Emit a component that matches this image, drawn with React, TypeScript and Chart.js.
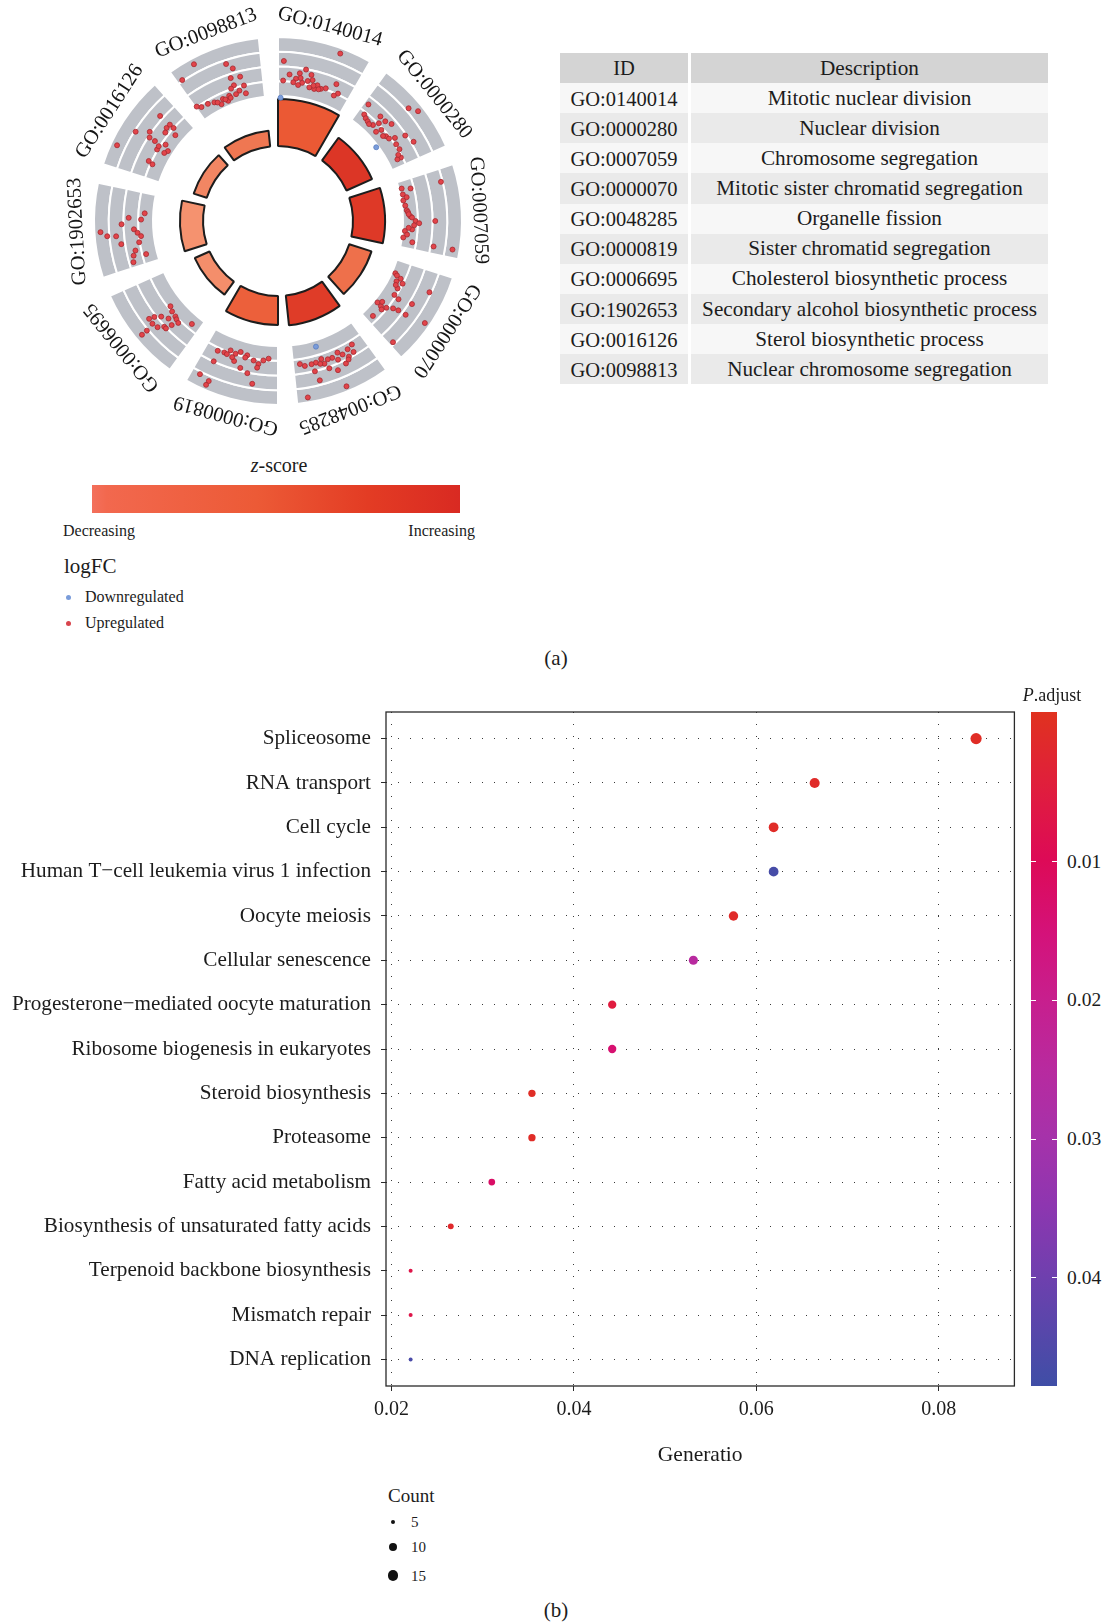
import React, { useEffect, useRef } from "react";
import { Chart, registerables } from "chart.js";

Chart.register(...registerables);

const SERIF = '"Liberation Serif", "Times New Roman", Times, serif';
Chart.defaults.font.family = SERIF;
Chart.defaults.color = "#1c1c1c";

// ================= (a) GO circle data =================
const goIds = [
  "GO:0140014", "GO:0000280", "GO:0007059", "GO:0000070", "GO:0048285",
  "GO:0000819", "GO:0006695", "GO:1902653", "GO:0016126", "GO:0098813",
];
const goDescriptions = [
  "Mitotic nuclear division", "Nuclear division", "Chromosome segregation",
  "Mitotic sister chromatid segregation", "Organelle fission", "Sister chromatid segregation",
  "Cholesterol biosynthetic process", "Secondary alcohol biosynthetic process",
  "Sterol biosynthetic process", "Nuclear chromosome segregation",
];
// -log10(adjusted p) -> inner bar height
const goSignificance = [21.4, 12.7, 14.6, 10.6, 13.6, 13.2, 7.3, 10.5, 6.2, 7.2];
// z-score -> inner bar colour
const goZScore = [5.0, 7.2, 7.0, 3.9, 6.8, 4.7, 1.9, 1.6, 2.5, 3.6];

// genes per term: [position along the term (0..1), logFC]
const up_GO0140014 = [[0.68,5.07],[0.07,3.34],[0.15,2.11],[0.35,2.77],[0.28,2.33],[0.24,1.78],[0.33,1.48],[0.43,2.38],[0.46,1.93],[0.44,1.2],[0.54,1.58],[0.6,1.36],[0.51,1.17],[0.77,2.28],[0.84,1.53],[0.8,1.21],[0.07,1.51],[0.21,1.42],[0.28,1.22],[0.4,1.75],[0.49,1.45],[0.57,1.25],[0.66,1.55],[0.3,1.9]];
const up_GO0000280 = [[0.06,2.16],[0.1,1.18],[0.44,4.5],[0.53,5.01],[0.28,2.05],[0.37,2.06],[0.45,2.33],[0.29,0.99],[0.39,0.76],[0.42,1.25],[0.53,1.21],[0.62,1.78],[0.67,2.7],[0.79,3.05],[0.7,1.54],[0.78,1.56],[0.89,1.3],[0.89,0.93],[0.15,1.0],[0.2,0.9],[0.24,0.8],[0.33,1.5],[0.5,1.0],[0.58,1.3],[0.84,1.2]];
const up_GO0007059 = [[0.11,0.32],[0.14,1.13],[0.15,4.04],[0.29,0.24],[0.44,0.45],[0.53,0.74],[0.6,1.23],[0.63,1.57],[0.72,0.93],[0.75,0.27],[0.85,0.18],[0.9,1.08],[0.6,3.07],[0.91,3.11],[0.91,4.9],[0.37,0.35],[0.47,0.55],[0.55,0.9],[0.66,1.1],[0.7,0.6],[0.2,0.3],[0.5,0.6],[0.8,0.5],[0.25,0.6]];
const up_GO0000070 = [[0.2,0.38],[0.24,1.04],[0.29,1.41],[0.38,1.2],[0.48,1.26],[0.71,0.39],[0.72,0.86],[0.69,1.35],[0.64,1.88],[0.62,2.38],[0.61,3.18],[0.46,3.11],[0.24,4.02],[0.56,5.09],[0.95,3.99],[0.9,0.92],[0.22,0.6],[0.3,0.8],[0.35,0.9],[0.66,0.7],[0.75,1.1],[0.5,1.8]];
const up_GO0048285 = [[0.17,1.82],[0.25,2.01],[0.34,2.23],[0.39,1.87],[0.48,2.13],[0.54,2.11],[0.62,1.89],[0.7,2.08],[0.76,2.12],[0.85,2.15],[0.91,1.9],[0.74,2.84],[0.71,3.77],[0.56,2.95],[0.47,3.4],[0.35,3.13],[0.28,2.68],[0.45,5.1],[0.88,5.1],[0.2,2.5],[0.3,2.9],[0.6,2.4],[0.42,2.5],[0.65,2.3]];
const up_GO0000819 = [[0.83,1.75],[0.74,1.64],[0.67,1.25],[0.59,1.4],[0.53,1.1],[0.43,1.25],[0.33,1.61],[0.26,1.87],[0.2,1.48],[0.13,1.27],[0.58,2.09],[0.48,2.55],[0.38,2.88],[0.27,2.22],[0.82,2.8],[0.9,4.44],[0.78,4.68],[0.79,5.1],[0.3,3.78],[0.7,1.7],[0.45,1.5],[0.62,1.8]];
const up_GO0006695 = [[0.52,1.2],[0.45,1.39],[0.37,1.47],[0.33,1.58],[0.41,2.08],[0.49,2.48],[0.54,3.0],[0.56,3.5],[0.49,3.54],[0.42,3.38],[0.37,2.89],[0.32,2.28],[0.28,1.7],[0.13,0.92],[0.47,4.35],[0.47,4.95],[0.34,2.88]];
const up_GO1902653 = [[0.71,0.85],[0.64,2.33],[0.62,1.17],[0.56,3.0],[0.49,1.86],[0.44,1.55],[0.39,1.25],[0.31,1.5],[0.21,1.98],[0.15,2.25],[0.07,2.42],[0.13,1.08],[0.42,3.57],[0.43,4.4],[0.48,5.0],[0.32,3.18]];
const up_GO0016126 = [[0.79,3.13],[0.47,4.08],[0.24,5.0],[0.56,2.97],[0.5,2.69],[0.5,2.09],[0.73,1.94],[0.79,1.91],[0.79,1.44],[0.73,0.88],[0.67,1.76],[0.42,1.5],[0.47,1.53],[0.54,1.07],[0.48,0.56],[0.43,0.76],[0.23,1.69],[0.21,1.25]];
const up_GO0098813 = [[0.26,5.0],[0.06,4.3],[0.59,3.83],[0.65,3.25],[0.59,2.44],[0.71,2.32],[0.6,1.71],[0.55,1.5],[0.65,1.08],[0.73,0.68],[0.59,0.86],[0.49,0.93],[0.39,0.88],[0.26,0.95],[0.17,1.13],[0.07,1.2],[0.02,1.49],[0.34,0.5],[0.45,0.53],[0.73,1.43],[0.5,0.7],[0.42,0.75],[0.3,0.8]];
const down_GO0140014 = [[0.04,-0.1]];
const down_GO0000280 = [[0.57,-0.15]];
const down_GO0048285 = [[0.64,0.64]];

const upByTerm = [up_GO0140014, up_GO0000280, up_GO0007059, up_GO0000070, up_GO0048285, up_GO0000819, up_GO0006695, up_GO1902653, up_GO0016126, up_GO0098813];
const downByTerm = [down_GO0140014, down_GO0000280, [], [], down_GO0048285, [], [], [], [], []];

// ================= (b) KEGG dot plot data =================
const keggTerms = [
  "Spliceosome", "RNA transport", "Cell cycle", "Human T\u2212cell leukemia virus 1 infection",
  "Oocyte meiosis", "Cellular senescence", "Progesterone\u2212mediated oocyte maturation",
  "Ribosome biogenesis in eukaryotes", "Steroid biosynthesis", "Proteasome",
  "Fatty acid metabolism", "Biosynthesis of unsaturated fatty acids",
  "Terpenoid backbone biosynthesis", "Mismatch repair", "DNA replication",
];
const geneRatio = [0.0841, 0.0664, 0.0619, 0.0619, 0.0575, 0.0531, 0.0442, 0.0442, 0.0354, 0.0354, 0.0310, 0.0265, 0.0221, 0.0221, 0.0221];
const geneCount = [19, 15, 14, 14, 13, 12, 10, 10, 8, 8, 7, 6, 5, 5, 5];
const pAdjust = [0.0005, 0.001, 0.0009, 0.0466, 0.0012, 0.025, 0.005, 0.0137, 0.0004, 0.0007, 0.012, 0.0015, 0.007, 0.007, 0.046];
const xTickValues = [0.02, 0.04, 0.06, 0.08];
const pTickValues = [0.01, 0.02, 0.03, 0.04];
const countLegend = [5, 10, 15];

// ================= styling helpers =================
const SEG = 30; // degrees per term
const GAP = 6;
const HALF = 221; // half size of the circle canvas
const CX = 278, CY = 221; // page position of circle centre
const BAR_BASE_PX = 75;
const BAR_PX = 2.2;
const RING_IN = 125;
const RING_OUT = 184;
const LFC_MIN = -0.2;
const LFC_MAX = 5.2;
const LABEL_R = 201;

const R_MIN = -BAR_BASE_PX / BAR_PX;
const R_MAX = HALF / BAR_PX + R_MIN;
const pxToUnit = (px: number) => px / BAR_PX + R_MIN;

function hexToRgb(h: string) {
  return [parseInt(h.slice(1, 3), 16), parseInt(h.slice(3, 5), 16), parseInt(h.slice(5, 7), 16)];
}
function ramp(stops: [number, string][], f: number) {
  const t = Math.max(0, Math.min(1, f));
  for (let i = 1; i < stops.length; i++) {
    if (t <= stops[i][0]) {
      const [f0, c0] = stops[i - 1];
      const [f1, c1] = stops[i];
      const k = (t - f0) / (f1 - f0 || 1);
      const a = hexToRgb(c0), b = hexToRgb(c1);
      const m = a.map((v, j) => Math.round(v + (b[j] - v) * k));
      return `rgb(${m[0]},${m[1]},${m[2]})`;
    }
  }
  return stops[stops.length - 1][1];
}
const zStops: [number, string][] = [[0, "#F69A78"], [0.35, "#F07A55"], [0.6, "#EA5530"], [1, "#D72A22"]];
const zLegendStops: [number, string][] = [[0, "#F3705C"], [0.04, "#F2684E"], [0.45, "#EC5A36"], [0.75, "#E33C24"], [1, "#D92A22"]];
const Z_LO = 1.0, Z_HI = 8.0;
const zColor = (z: number) => ramp(zStops, (z - Z_LO) / (Z_HI - Z_LO));

const pStops: [number, string][] = [
  [0, "#E0321F"], [0.1, "#E0203A"], [0.22, "#DD0A57"], [0.33, "#D4127A"], [0.43, "#C71F8E"],
  [0.53, "#B82A9F"], [0.63, "#A632AA"], [0.73, "#8E36B0"], [0.84, "#6E40AE"], [1, "#3F4EA6"],
];
const P_LO = -0.0008, P_HI = 0.0478;
const pFrac = (p: number) => (p - P_LO) / (P_HI - P_LO);
const pColor = (p: number) => ramp(pStops, pFrac(p));
const sizeOf = (c: number) => 2.0 + 3.6 * Math.sqrt(Math.max(0, c - 5) / 14);

function polarToXY(term: number, t: number, lfc: number) {
  const th = ((term * (SEG + GAP) + t * SEG) * Math.PI) / 180;
  const r = RING_IN + ((lfc - LFC_MIN) * (RING_OUT - RING_IN)) / (LFC_MAX - LFC_MIN);
  return { x: r * Math.sin(th), y: r * Math.cos(th) };
}

const PLOT_TOP = 712, PLOT_BOTTOM = 1386;

export default function App() {
  const polarRef = useRef<HTMLCanvasElement>(null);
  const pointsRef = useRef<HTMLCanvasElement>(null);
  const dotRef = useRef<HTMLCanvasElement>(null);

  useEffect(() => {
    const transparent = "rgba(0,0,0,0)";
    const innerRadiusPlugin = {
      id: "innerRadius",
      afterDatasetsUpdate(chart: any) {
        const scale = chart.scales.r;
        chart.data.datasets.forEach((ds: any, i: number) => {
          const meta = chart.getDatasetMeta(i);
          const ir = scale.getDistanceFromCenterForValue(ds.base);
          meta.data.forEach((arc: any) => {
            arc.innerRadius = ir;
          });
        });
      },
    };
    const labelPlugin = {
      id: "goLabels",
      afterDatasetsDraw(chart: any) {
        const { ctx } = chart;
        const scale = chart.scales.r;
        goIds.forEach((id, i) => {
          const mid = ((i * (SEG + GAP) + SEG / 2) * Math.PI) / 180;
          ctx.save();
          ctx.translate(scale.xCenter, scale.yCenter);
          ctx.rotate(mid);
          ctx.font = `20.6px ${SERIF}`;
          ctx.fillStyle = "#161616";
          ctx.textAlign = "center";
          ctx.textBaseline = "middle";
          ctx.fillText(id, 0, -LABEL_R);
          ctx.restore();
        });
      },
    };

    const bands = [0, 1, 2, 3].map((k) => {
      const w = (RING_OUT - RING_IN) / 4;
      const inner = RING_IN + k * w;
      const outer = inner + w;
      return {
        data: goIds.flatMap(() => [pxToUnit(outer), pxToUnit(inner)]),
        base: pxToUnit(inner),
        backgroundColor: goIds.flatMap(() => ["#BEC1C8", transparent]),
        borderColor: "#ffffff",
        borderWidth: goIds.flatMap(() => [2, 0]),
        angle: (c: any) => (c.dataIndex % 2 === 0 ? SEG : GAP),
      };
    });

    const polar = new Chart(polarRef.current!, {
      type: "polarArea",
      data: {
        labels: goIds.flatMap((id) => [id, ""]),
        datasets: [
          {
            data: goSignificance.flatMap((h) => [h, 0]),
            base: 0,
            backgroundColor: goZScore.flatMap((z) => [zColor(z), transparent]),
            borderColor: goZScore.flatMap(() => ["#1d1d1d", transparent]),
            borderWidth: goZScore.flatMap(() => [2, 0]),
            angle: (c: any) => (c.dataIndex % 2 === 0 ? SEG : GAP),
          } as any,
          ...(bands as any[]),
        ],
      },
      options: {
        responsive: false,
        animation: false,
        events: [],
        layout: { padding: 0 },
        plugins: { legend: { display: false }, tooltip: { enabled: false } },
        scales: {
          r: {
            display: false,
            min: R_MIN,
            max: R_MAX,
            ticks: { display: false },
            grid: { display: false },
            angleLines: { display: false },
            pointLabels: { display: false },
          },
        },
      } as any,
      plugins: [innerRadiusPlugin, labelPlugin],
    });

    const upPts = upByTerm.flatMap((pts, term) => pts.map(([t, l]) => polarToXY(term, t, l)));
    const downPts = downByTerm.flatMap((pts, term) => pts.map(([t, l]) => polarToXY(term, t, l)));
    const points = new Chart(pointsRef.current!, {
      type: "scatter",
      data: {
        datasets: [
          { data: upPts, pointRadius: 2.5, backgroundColor: "#E2444A", borderColor: "#A52A30", borderWidth: 0.8 },
          { data: downPts, pointRadius: 2.5, backgroundColor: "#7A9CDA", borderColor: "#5A7DC0", borderWidth: 0.8 },
        ],
      },
      options: {
        responsive: false,
        animation: false,
        events: [],
        layout: { padding: 0 },
        plugins: { legend: { display: false }, tooltip: { enabled: false } },
        scales: {
          x: { display: false, min: -HALF, max: HALF },
          y: { display: false, min: -HALF, max: HALF },
        },
      },
    });

    const framePlugin = {
      id: "frame",
      beforeDatasetsDraw(chart: any) {
        const { ctx, chartArea: a } = chart;
        ctx.save();
        ctx.strokeStyle = "#2a2a2a";
        ctx.lineWidth = 1.3;
        ctx.strokeRect(a.left, a.top, a.right - a.left, a.bottom - a.top);
        ctx.restore();
      },
    };
    const n = keggTerms.length;
    const dots = new Chart(dotRef.current!, {
      type: "bubble",
      data: {
        datasets: [
          {
            data: keggTerms.map((_, i) => ({ x: geneRatio[i], y: n - i, r: sizeOf(geneCount[i]) })),
            backgroundColor: keggTerms.map((_, i) => pColor(pAdjust[i])),
            borderWidth: 0,
            hoverRadius: 0,
          },
        ],
      },
      options: {
        responsive: false,
        animation: false,
        events: [],
        layout: { padding: { top: 12, right: 5, left: 0, bottom: 0 } },
        plugins: { legend: { display: false }, tooltip: { enabled: false } },
        scales: {
          x: {
            type: "linear",
            min: 0.0194,
            max: 0.0883,
            afterBuildTicks: (s: any) => {
              s.ticks = xTickValues.map((v) => ({ value: v }));
            },
            afterFit: (s: any) => {
              s.height = 80;
              s.paddingLeft = 0;
              s.paddingRight = 0;
            },
            ticks: { callback: (v: any) => Number(v).toFixed(2), font: { size: 20 }, color: "#1c1c1c", padding: 7, maxRotation: 0 },
            grid: { color: "#3a3a3a", tickColor: "#2a2a2a", tickLength: 5, lineWidth: 1 },
            border: { display: false, dash: [1, 11] },
            title: { display: true, text: "Generatio", font: { size: 21.5 }, color: "#1c1c1c", padding: { top: 0, bottom: -2 } },
          },
          y: {
            type: "linear",
            min: 0.4,
            max: n + 0.6,
            afterBuildTicks: (s: any) => {
              s.ticks = keggTerms.map((_, i) => ({ value: n - i }));
            },
            afterFit: (s: any) => {
              s.width = 386;
              s.paddingTop = 0;
              s.paddingBottom = 0;
            },
            ticks: {
              callback: (v: any) => keggTerms[n - Math.round(Number(v))],
              font: { size: 21.2 },
              color: "#1c1c1c",
              padding: 10,
            },
            grid: { color: "#3a3a3a", tickColor: "#2a2a2a", tickLength: 5, lineWidth: 1 },
            border: { display: false, dash: [1, 11] },
          },
        },
      } as any,
      plugins: [framePlugin],
    });

    return () => {
      polar.destroy();
      points.destroy();
      dots.destroy();
    };
  }, []);

  const abs = (s: React.CSSProperties): React.CSSProperties => ({ position: "absolute", ...s });
  const ink = "#1c1c1c";
  const zGradient = `linear-gradient(to right, ${zLegendStops.map(([f, c]) => `${c} ${f * 100}%`).join(", ")})`;
  const pGradient = `linear-gradient(to bottom, ${pStops.map(([f, c]) => `${c} ${f * 100}%`).join(", ")})`;
  const barH = PLOT_BOTTOM - PLOT_TOP;
  const cell: React.CSSProperties = { display: "flex", alignItems: "center", justifyContent: "center", whiteSpace: "nowrap" };

  return (
    <div style={abs({ left: 0, top: 0, width: 1105, height: 1623, background: "#fff", fontFamily: SERIF, color: ink, overflow: "hidden" })}>
      {/* (a) GO circle */}
      <div style={abs({ left: CX - HALF, top: CY - HALF, width: 2 * HALF, height: 2 * HALF })}>
        <canvas ref={polarRef} width={2 * HALF} height={2 * HALF} style={abs({ left: 0, top: 0 })} />
        <canvas ref={pointsRef} width={2 * HALF} height={2 * HALF} style={abs({ left: 0, top: 0 })} />
      </div>

      {/* table */}
      <div style={abs({ left: 560, top: 53, display: "grid", gridTemplateColumns: "128px 357px", columnGap: "3px" })}>
        <div style={{ ...cell, background: "#D4D4D4", height: 30, fontSize: "20.5px" }}>ID</div>
        <div style={{ ...cell, background: "#D4D4D4", height: 30, fontSize: "21.2px" }}>Description</div>
        {goIds.map((id, i) => (
          <React.Fragment key={id}>
            <div style={{ ...cell, background: i % 2 === 0 ? "#F7F7F7" : "#EAEAEA", height: 30.15, fontSize: "20.5px", paddingTop: 2, boxSizing: "border-box" }}>{id}</div>
            <div style={{ ...cell, background: i % 2 === 0 ? "#F7F7F7" : "#EAEAEA", height: 30.15, fontSize: "21.2px" }}>{goDescriptions[i]}</div>
          </React.Fragment>
        ))}
      </div>

      {/* z-score legend */}
      <div style={abs({ left: 179, top: 453, width: 200, textAlign: "center", fontSize: 20, lineHeight: "24px" })}>
        <i>z</i>-score
      </div>
      <div style={abs({ left: 92, top: 485, width: 368, height: 28, background: zGradient })} />
      <div style={abs({ left: 63, top: 521, fontSize: 16, lineHeight: "20px" })}>Decreasing</div>
      <div style={abs({ left: 375, top: 521, width: 100, textAlign: "right", fontSize: 16, lineHeight: "20px" })}>Increasing</div>
      <div style={abs({ left: 64, top: 553, fontSize: 21, lineHeight: "26px" })}>logFC</div>
      <div style={abs({ left: 65.5, top: 594.5, width: 5, height: 5, borderRadius: "50%", background: "#7A9CDA" })} />
      <div style={abs({ left: 85, top: 587, fontSize: 16, lineHeight: "20px" })}>Downregulated</div>
      <div style={abs({ left: 65.5, top: 620.5, width: 5, height: 5, borderRadius: "50%", background: "#D8444C" })} />
      <div style={abs({ left: 85, top: 613, fontSize: 16, lineHeight: "20px" })}>Upregulated</div>
      <div style={abs({ left: 506, top: 646, width: 100, textAlign: "center", fontSize: 21, lineHeight: "24px" })}>(a)</div>

      {/* (b) dot plot */}
      <canvas ref={dotRef} width={1020} height={766} style={abs({ left: 0, top: 700 })} />

      {/* P.adjust colour bar */}
      <div style={abs({ left: 1002, top: 684, width: 100, textAlign: "center", fontSize: 18, lineHeight: "22px" })}>
        <i>P</i>.adjust
      </div>
      <div style={abs({ left: 1031, top: PLOT_TOP, width: 26, height: barH, background: pGradient })} />
      {pTickValues.map((v) => {
        const y = PLOT_TOP + pFrac(v) * barH;
        return (
          <React.Fragment key={v}>
            <div style={abs({ left: 1031, top: y - 0.5, width: 5, height: 1, background: "#fff" })} />
            <div style={abs({ left: 1052, top: y - 0.5, width: 5, height: 1, background: "#fff" })} />
            <div style={abs({ left: 1067, top: y - 12, fontSize: 19.5, lineHeight: "24px" })}>{v.toFixed(2)}</div>
          </React.Fragment>
        );
      })}

      {/* Count legend */}
      <div style={abs({ left: 388, top: 1484, fontSize: 19, lineHeight: "24px" })}>Count</div>
      {countLegend.map((c, i) => {
        const y = [1521.5, 1547, 1575.5][i];
        const r = sizeOf(c);
        return (
          <React.Fragment key={c}>
            <div style={abs({ left: 393 - r, top: y - r, width: 2 * r, height: 2 * r, borderRadius: "50%", background: "#111" })} />
            <div style={abs({ left: 411, top: y - 10, fontSize: 15, lineHeight: "20px" })}>{c}</div>
          </React.Fragment>
        );
      })}
      <div style={abs({ left: 506, top: 1598, width: 100, textAlign: "center", fontSize: 21, lineHeight: "24px" })}>(b)</div>
    </div>
  );
}
